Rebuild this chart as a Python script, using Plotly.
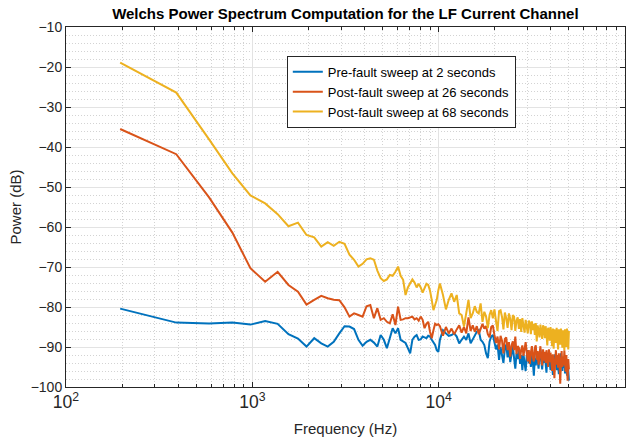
import plotly.graph_objects as go

# FFT bin numbers (fs = 100 kHz, nfft = 512 -> 195.3125 Hz per bin)
FS_HZ = 100000
NFFT = 512
BINS_LOW = list(range(1, 52))          # every bin up to ~10 kHz
BINS_HIGH = list(range(52, 257, 2))    # every 2nd bin above ~10 kHz
BINS = BINS_LOW + BINS_HIGH
FREQ_HZ = [b * FS_HZ / NFFT for b in BINS]

SERIES_NAMES = ["Pre-fault sweep at 2 seconds",
                "Post-fault sweep at 26 seconds",
                "Post-fault sweep at 68 seconds"]

PRE_2S = [
    -80.4, -83.9, -84.1, -83.9, -84.4, -83.5, -84.2, -86.8, -87.9, -89.9,
    -87.8, -89.1, -89.9, -88.7, -86.6, -84.8, -84.9, -85.5, -88.2, -89.7,
    -88.7, -88.2, -88.9, -89.9, -87.0, -88.2, -90.3, -87.4, -85.3, -86.6,
    -85.3, -88.2, -88.7, -89.0, -90.3, -91.6, -88.2, -87.4, -87.0, -88.2,
    -88.1, -87.4, -87.6, -87.8, -87.2, -87.4, -88.2, -89.0, -89.5, -90.8,
    -91.2,
    -88.2, -85.8, -86.6, -87.2, -87.0, -86.6, -87.4, -89.1, -88.2, -87.4,
    -88.2, -86.6, -89.1, -88.2, -87.4, -86.2, -85.8, -88.2, -88.7, -89.5,
    -91.6, -92.8, -88.7, -87.4, -87.0,
    -88.8, -90.6, -89.4, -93.2, -90.0, -91.8, -94.0, -90.4, -89.4, -92.6,
    -90.2, -93.8, -91.0, -89.8, -92.8, -95.4, -91.6, -93.0, -90.4, -94.2,
    -92.0, -95.8, -91.8, -93.4, -96.0, -92.4, -90.8, -94.0, -92.2, -95.0,
    -91.6, -93.8, -97.2, -92.8, -94.6, -91.4, -93.2, -95.4, -92.0, -90.6,
    -93.6, -95.6, -92.2, -94.0, -91.8, -93.8, -96.4, -92.6, -94.4, -91.6,
    -93.4, -95.8, -92.0, -94.2, -97.0, -92.8, -94.6, -91.8, -93.6, -95.8,
    -92.6, -94.4, -96.8, -92.4, -94.0, -91.6, -93.8, -96.0, -92.8, -95.2,
    -93.0, -96.6, -92.4, -94.8, -97.2, -93.6, -95.4, -98.4,
]

POST_26S = [
    -35.5, -41.8, -52.6, -61.4, -70.3, -73.7, -71.2, -74.5, -76.2, -79.4,
    -78.2, -77.2, -77.8, -78.2, -78.3, -80.1, -82.4, -81.6, -82.0, -82.4,
    -79.8, -79.5, -82.8, -80.3, -83.2, -82.8, -83.7, -84.1, -81.8, -84.5,
    -79.9, -83.2, -83.1, -82.8, -82.8, -82.6, -82.4, -83.1, -82.8, -83.4,
    -82.4, -83.2, -85.3, -84.2, -83.7, -86.2, -87.8, -85.8, -84.2, -84.5,
    -84.3,
    -84.8, -87.2, -85.0, -86.6, -85.4, -86.8, -85.6, -84.6, -86.4, -85.0,
    -86.6, -82.6, -86.0, -84.6, -86.2, -84.8, -86.8, -85.6, -84.2, -85.4,
    -84.8, -86.8, -87.6, -85.0, -84.6,
    -87.0, -89.0, -87.4, -90.6, -87.2, -88.4, -91.6, -88.0, -87.6, -90.8,
    -88.8, -92.4, -89.6, -88.6, -90.8, -87.4, -91.8, -89.8, -90.2, -93.0,
    -90.6, -89.6, -92.2, -90.4, -88.8, -91.4, -93.6, -90.8, -94.2, -91.4,
    -89.8, -92.6, -93.6, -90.2, -89.6, -93.2, -91.0, -94.4, -92.0, -89.8,
    -92.8, -94.6, -90.6, -93.4, -91.2, -94.0, -90.8, -92.6, -95.0, -90.6,
    -93.8, -91.4, -94.6, -96.0, -91.8, -94.0, -97.8, -93.2, -90.8, -94.4,
    -92.0, -95.2, -91.6, -94.0, -99.2, -93.6, -91.0, -95.0, -92.4, -94.6,
    -90.8, -93.8, -96.2, -92.0, -94.8, -98.4, -93.0, -95.6,
]

POST_68S = [
    -18.9, -26.4, -38.1, -46.6, -52.1, -54.1, -56.8, -59.8, -58.9, -62.0,
    -62.6, -64.9, -63.8, -64.7, -63.7, -64.2, -66.9, -68.2, -69.9, -69.2,
    -68.1, -67.8, -68.2, -70.9, -72.8, -73.5, -73.1, -72.0, -72.2, -71.2,
    -69.9, -72.2, -73.2, -77.0, -75.1, -74.1, -73.1, -73.9, -75.1, -74.2,
    -75.1, -76.4, -75.1, -74.2, -74.5, -75.9, -78.2, -80.8, -79.5, -78.2,
    -75.8,
    -74.1, -77.0, -80.6, -78.2, -76.6, -78.7, -77.0, -81.6, -82.0, -84.9,
    -81.6, -78.2, -82.8, -81.6, -79.8, -81.2, -81.6, -79.1, -83.7, -81.2,
    -82.4, -85.3, -82.0, -80.8, -82.8,
    -80.6, -83.5, -86.0, -81.0, -80.8, -82.5, -85.6, -81.4, -82.8, -85.2,
    -81.6, -83.0, -85.8, -82.0, -82.4, -86.0, -83.4, -82.6, -85.5, -83.0,
    -86.2, -82.8, -84.5, -86.4, -83.2, -85.0, -86.6, -83.4, -84.0, -86.8,
    -83.6, -85.8, -84.2, -87.0, -84.0, -88.6, -84.6, -86.0, -87.6, -84.4,
    -86.4, -88.0, -84.6, -85.2, -87.8, -84.8, -86.6, -89.6, -85.2, -86.0,
    -88.4, -85.0, -87.2, -89.8, -85.4, -90.4, -85.6, -87.0, -89.0, -85.2,
    -88.0, -90.6, -85.6, -87.6, -89.4, -85.4, -86.8, -90.2, -85.8, -88.6,
    -90.8, -85.6, -87.4, -90.0, -85.4, -88.2, -90.6, -86.0,
]

COLORS = ["#0072BD", "#D95319", "#EDB120"]
FONT = "Liberation Sans, Arial, sans-serif"
INK = "#262626"

fig = go.Figure()
for name, ys, col in zip(SERIES_NAMES, [PRE_2S, POST_26S, POST_68S], COLORS):
    fig.add_trace(go.Scatter(x=FREQ_HZ, y=ys, mode="lines", name=name,
                             line=dict(color=col, width=2)))

axis_common = dict(
    showline=True, linecolor=INK, linewidth=1, mirror="ticks",
    ticks="inside", ticklen=5, tickcolor=INK,
    showgrid=True, gridcolor="#e3e3e3", gridwidth=1,
    zeroline=False, automargin=False,
    tickfont=dict(family=FONT, size=14, color=INK),
)

fig.update_layout(
    width=636, height=442,
    margin=dict(l=66, r=11, t=27, b=55),
    paper_bgcolor="white", plot_bgcolor="white",
    font=dict(family=FONT, color=INK),
    title=dict(text="Welchs Power Spectrum Computation for the LF Current Channel",
               x=0.543, xanchor="center", y=0.97, yanchor="middle",
               font=dict(family=FONT, size=15, color="black", weight="bold")),
    xaxis=dict(type="log", range=[2, 5], dtick=1, exponentformat="power",
               title=dict(text="Frequency (Hz)", font=dict(family=FONT, size=15, color=INK), standoff=12),
               minor=dict(dtick="D1", ticks="inside", ticklen=3, tickcolor=INK,
                          showgrid=True, gridcolor="#d3d3d3", griddash="1px,2px"),
               **axis_common),
    yaxis=dict(range=[-100, -10], dtick=10,
               title=dict(text="Power (dB)", font=dict(family=FONT, size=15, color=INK), standoff=5),
               minor=dict(dtick=2, showgrid=True, gridcolor="#d3d3d3", griddash="1px,2px"),
               **axis_common),
    legend=dict(x=0.395, y=0.92, xanchor="left", yanchor="top",
                bgcolor="white", bordercolor=INK, borderwidth=1,
                font=dict(family=FONT, size=13, color="black"),
                tracegroupgap=0),
    showlegend=True,
)

fig.write_html("out.html")
